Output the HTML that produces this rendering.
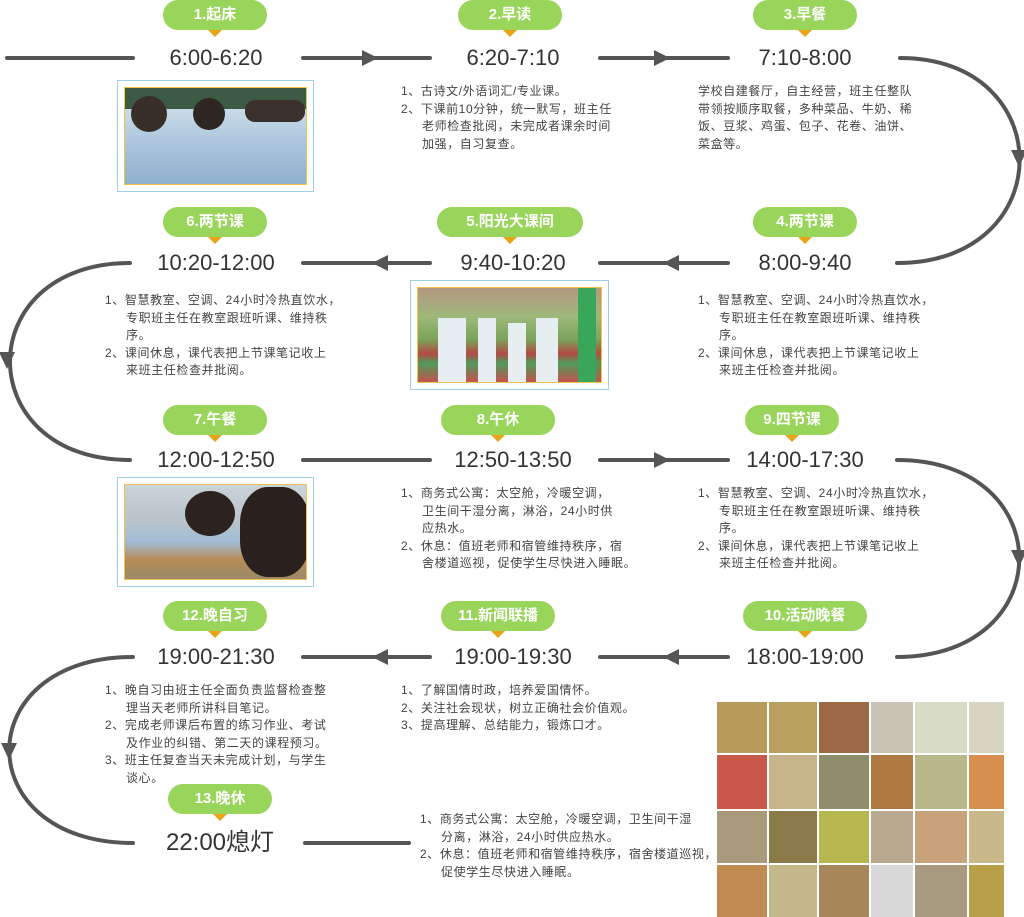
<!DOCTYPE html>
<html><head><meta charset="utf-8">
<style>
body{margin:0;width:1024px;height:917px;background:#fff;position:relative;overflow:hidden;font-family:"Liberation Sans","Noto Sans CJK SC",sans-serif;}
.b{position:absolute;height:30px;border-radius:15px;background:#98d55a;color:#fff;font-weight:bold;font-size:15px;line-height:30px;text-align:center;}
.b:after{content:"";position:absolute;left:50%;top:30px;margin-left:-7px;border-left:7px solid transparent;border-right:7px solid transparent;border-top:7px solid #e9a317;}
.t{position:absolute;width:220px;text-align:center;font-size:22px;color:#333;line-height:26px;}
.d{position:absolute;font-size:12px;color:#444;line-height:17.5px;white-space:nowrap;letter-spacing:0.6px;}
.d div{padding-left:21px;text-indent:-21px;}
.p{position:absolute;border:1.5px solid #9fcfdc;background:#fff;}
.p>div{position:absolute;left:6px;top:6px;right:6px;bottom:6px;border:1.5px solid #f2c24f;overflow:hidden;}
.c{position:absolute;}
</style></head><body>
<svg width="1024" height="917" style="position:absolute;left:0;top:0" fill="none" stroke="#555" stroke-width="4" stroke-linecap="round">
<line x1="7" y1="58" x2="133" y2="58"/><line x1="303" y1="58" x2="430" y2="58"/><line x1="600" y1="58" x2="728" y2="58"/>
<line x1="303" y1="263" x2="430" y2="263"/><line x1="600" y1="263" x2="728" y2="263"/>
<line x1="303" y1="460" x2="430" y2="460"/><line x1="600" y1="460" x2="728" y2="460"/>
<line x1="303" y1="657" x2="430" y2="657"/><line x1="600" y1="657" x2="728" y2="657"/>
<line x1="305" y1="843" x2="409" y2="843"/>
<path d="M900 58 C1060 58,1060 263,897 263"/>
<path d="M130 263 C-30 263,-30 460,130 460"/>
<path d="M897 460 C1060 460,1060 657,897 657"/>
<path d="M133 657 C-32 657,-32 843,133 843"/>
<g fill="#555" stroke="none">
<polygon points="362,50 378,58 362,66"/><polygon points="654,50 670,58 654,66"/>
<polygon points="388,255 372,263 388,271"/><polygon points="679,255 663,263 679,271"/>
<polygon points="654,452 670,460 654,468"/>
<polygon points="388,649 372,657 388,665"/><polygon points="679,649 663,657 679,665"/>
<polygon points="1011,150 1027,150 1019,167"/>
<polygon points="-1,352 15,352 7,369"/>
<polygon points="1011,550 1027,550 1019,567"/>
<polygon points="1,743 17,743 9,760"/>
</g>
</svg>
<div class="b" style="left:163px;top:0;width:104px">1.起床</div>
<div class="b" style="left:458px;top:0;width:104px">2.早读</div>
<div class="b" style="left:753px;top:0;width:104px">3.早餐</div>
<div class="b" style="left:753px;top:207px;width:104px">4.两节课</div>
<div class="b" style="left:437px;top:207px;width:146px">5.阳光大课间</div>
<div class="b" style="left:163px;top:207px;width:104px">6.两节课</div>
<div class="b" style="left:163px;top:405px;width:104px">7.午餐</div>
<div class="b" style="left:441px;top:405px;width:114px">8.午休</div>
<div class="b" style="left:745px;top:405px;width:94px">9.四节课</div>
<div class="b" style="left:743px;top:601px;width:124px">10.活动晚餐</div>
<div class="b" style="left:441px;top:601px;width:114px">11.新闻联播</div>
<div class="b" style="left:163px;top:601px;width:104px">12.晚自习</div>
<div class="b" style="left:168px;top:784px;width:104px">13.晚休</div>
<div class="t" style="left:106px;top:45px">6:00-6:20</div>
<div class="t" style="left:403px;top:45px">6:20-7:10</div>
<div class="t" style="left:695px;top:45px">7:10-8:00</div>
<div class="t" style="left:695px;top:250px">8:00-9:40</div>
<div class="t" style="left:403px;top:250px">9:40-10:20</div>
<div class="t" style="left:106px;top:250px">10:20-12:00</div>
<div class="t" style="left:106px;top:447px">12:00-12:50</div>
<div class="t" style="left:403px;top:447px">12:50-13:50</div>
<div class="t" style="left:695px;top:447px">14:00-17:30</div>
<div class="t" style="left:695px;top:644px">18:00-19:00</div>
<div class="t" style="left:403px;top:644px">19:00-19:30</div>
<div class="t" style="left:106px;top:644px">19:00-21:30</div>
<div class="t" style="left:110px;top:830px;font-size:24px">22:00熄灯</div>

<div class="d" style="left:401px;top:83px"><div>1、古诗文/外语词汇/专业课。</div><div>2、下课前10分钟，统一默写，班主任<br>老师检查批阅，未完成者课余时间<br>加强，自习复查。</div></div>
<div class="d" style="left:698px;top:83px">学校自建餐厅，自主经营，班主任整队<br>带领按顺序取餐，多种菜品、牛奶、稀<br>饭、豆浆、鸡蛋、包子、花卷、油饼、<br>菜盒等。</div>
<div class="d" style="left:698px;top:292px"><div>1、智慧教室、空调、24小时冷热直饮水，<br>专职班主任在教室跟班听课、维持秩<br>序。</div><div>2、课间休息，课代表把上节课笔记收上<br>来班主任检查并批阅。</div></div>
<div class="d" style="left:105px;top:292px"><div>1、智慧教室、空调、24小时冷热直饮水，<br>专职班主任在教室跟班听课、维持秩<br>序。</div><div>2、课间休息，课代表把上节课笔记收上<br>来班主任检查并批阅。</div></div>
<div class="d" style="left:401px;top:485px"><div>1、商务式公寓：太空舱，冷暖空调，<br>卫生间干湿分离，淋浴，24小时供<br>应热水。</div><div>2、休息：值班老师和宿管维持秩序，宿<br>舍楼道巡视，促使学生尽快进入睡眠。</div></div>
<div class="d" style="left:698px;top:485px"><div>1、智慧教室、空调、24小时冷热直饮水，<br>专职班主任在教室跟班听课、维持秩<br>序。</div><div>2、课间休息，课代表把上节课笔记收上<br>来班主任检查并批阅。</div></div>
<div class="d" style="left:401px;top:682px"><div>1、了解国情时政，培养爱国情怀。</div><div>2、关注社会现状，树立正确社会价值观。</div><div>3、提高理解、总结能力，锻炼口才。</div></div>
<div class="d" style="left:105px;top:682px"><div>1、晚自习由班主任全面负责监督检查整<br>理当天老师所讲科目笔记。</div><div>2、完成老师课后布置的练习作业、考试<br>及作业的纠错、第二天的课程预习。</div><div>3、班主任复查当天未完成计划，与学生<br>谈心。</div></div>
<div class="d" style="left:420px;top:811px"><div>1、商务式公寓：太空舱，冷暖空调，卫生间干湿<br>分离，淋浴，24小时供应热水。</div><div>2、休息：值班老师和宿管维持秩序，宿舍楼道巡视，<br>促使学生尽快进入睡眠。</div></div>

<div class="p" style="left:117px;top:80px;width:195px;height:110px"><div style="background:linear-gradient(180deg,#3d5a45 0,#3d5a45 22%,#c9dbe8 22%,#a9c4dc 60%,#8fb0cc 100%)">
<div class="c" style="left:6px;top:8px;width:36px;height:36px;border-radius:50%;background:#3a2e28"></div>
<div class="c" style="left:68px;top:10px;width:32px;height:32px;border-radius:50%;background:#2e2623"></div>
<div class="c" style="left:120px;top:12px;width:60px;height:22px;border-radius:10px;background:#3a302c"></div>
</div></div>
<div class="p" style="left:410px;top:280px;width:197px;height:108px"><div style="background:linear-gradient(180deg,#b49682 0,#9fb87a 30%,#7aa35a 55%,#b34a44 70%,#4f9a5a 80%,#c4534e 100%)">
<div class="c" style="left:20px;top:30px;width:28px;height:70px;background:#e6eef2"></div>
<div class="c" style="left:60px;top:30px;width:18px;height:70px;background:#e6eef2"></div>
<div class="c" style="left:90px;top:35px;width:18px;height:60px;background:#e6eef2"></div>
<div class="c" style="left:118px;top:30px;width:22px;height:70px;background:#e6eef2"></div>
<div class="c" style="left:160px;top:0;width:18px;height:100px;background:#3aa65a"></div>
</div></div>
<div class="p" style="left:117px;top:477px;width:195px;height:108px"><div style="background:linear-gradient(180deg,#c9d3d8 0,#b8c3ca 40%,#9fbcd8 60%,#b78a55 80%,#9a8a6a 100%)">
<div class="c" style="left:60px;top:6px;width:50px;height:45px;border-radius:50%;background:#2c2220"></div>
<div class="c" style="left:115px;top:2px;width:70px;height:90px;border-radius:40%;background:#2a211f"></div>
</div></div>

<div style="position:absolute;left:717px;top:702px;width:287px;height:213px;display:grid;grid-template-columns:50px 48px 50px 42px 52px 35px;grid-template-rows:51px 54px 52px 52px;gap:2px">
<div style="background:#b89a5a"></div><div style="background:#b9a060"></div><div style="background:#9b6a45"></div><div style="background:#c9c4b5"></div><div style="background:#d8dcc5"></div><div style="background:#d8d4c2"></div>
<div style="background:#c8584a"></div><div style="background:#c8b48a"></div><div style="background:#8e8e6a"></div><div style="background:#b07a45"></div><div style="background:#b8b88a"></div><div style="background:#d89050"></div>
<div style="background:#a89a7a"></div><div style="background:#8a7a4a"></div><div style="background:#b8b850"></div><div style="background:#b8a890"></div><div style="background:#c8a27a"></div><div style="background:#c8b88a"></div>
<div style="background:#c08a50"></div><div style="background:#c4b88a"></div><div style="background:#a8885a"></div><div style="background:#d8d8d8"></div><div style="background:#a89a80"></div><div style="background:#b8a04a"></div>
</div>
</body></html>
